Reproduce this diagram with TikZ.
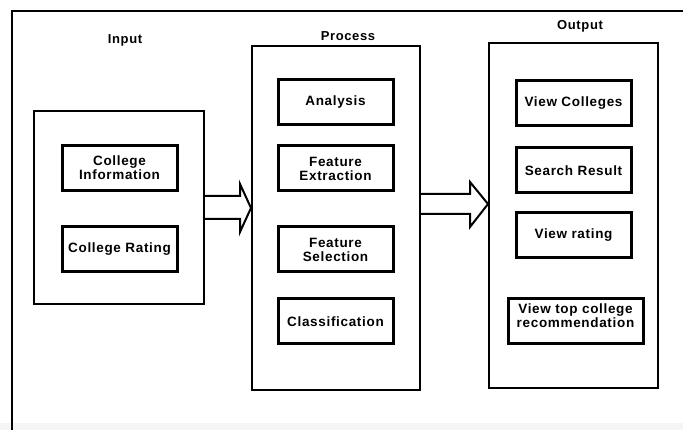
\documentclass[tikz,border=0pt]{standalone}
\usepackage{fontspec}
\setmainfont{Liberation Sans}[LetterSpace=5]
\usetikzlibrary{calc}

\begin{document}
\begin{tikzpicture}[x=1pt, y=-1pt,
  group/.style={draw, line width=2pt, inner sep=0pt},
  item/.style={draw, line width=3pt, align=center, minimum width=115pt, minimum height=45pt, inner sep=1pt, font=\fontsize{13.5}{14}\selectfont\bfseries},
  title/.style={font=\fontsize{13}{14}\selectfont\bfseries},
  blockarrow/.style={draw, line width=2pt, fill=white, line join=miter}]
\useasboundingbox (0,0) rectangle (683,430);
\fill[black!4] (0,423) rectangle (683,430);
% frame
\draw[line width=2.5pt] (683,11) -- (12,11) -- (12,430);

% input
\node[group, minimum width=170pt, minimum height=193pt] (inbox) at (119,207.5) {};
\node[title] (intitle) at (125,40) {Input};
\node[item] (colinfo) at (119.5,168) {College\\Information};
\node[item] (colrate) at (119.5,249.5) {College Rating};

% process
\node[group, minimum width=168pt, minimum height=344pt] (procbox) at (336,218) {};
\node[title] (proctitle) at (348,36) {Process};
\node[item] (analysis) at (335.5,102.5) {Analysis};
\node[item] (featext) at (335.5,168.5) {Feature\\Extraction};
\node[item] (featsel) at (335.5,249.5) {Feature\\Selection};
\node[item] (classif) at (335.5,321.5) {Classification};

% output
\node[group, minimum width=169pt, minimum height=345pt] (outbox) at (573.5,215.5) {};
\node[title] (outtitle) at (580,26) {Output};
\node[item] (viewcol) at (573.5,103) {View Colleges};
\node[item] (search) at (573.5,170.5) {Search Result};
\node[item] (viewrate) at (573.5,235.5) {View rating};
\node[item, minimum width=135pt, text depth=12pt] (viewtop) at (575.5,321.5) {View top college\\recommendation};

% arrows
\draw[blockarrow] ($(inbox.east)+(0,-11.5)$) -- (240,196) -- (240,184) -- (procbox.west |- 0,208)
  -- (240,232) -- (240,219) -- ($(inbox.east)+(0,11.5)$);
\draw[blockarrow] ($(procbox.east)+(0,-24)$) -- (470,194) -- (470,182) -- (outbox.west |- 0,204)
  -- (470,227) -- (470,214) -- ($(procbox.east)+(0,-4)$);
\end{tikzpicture}
\end{document}
